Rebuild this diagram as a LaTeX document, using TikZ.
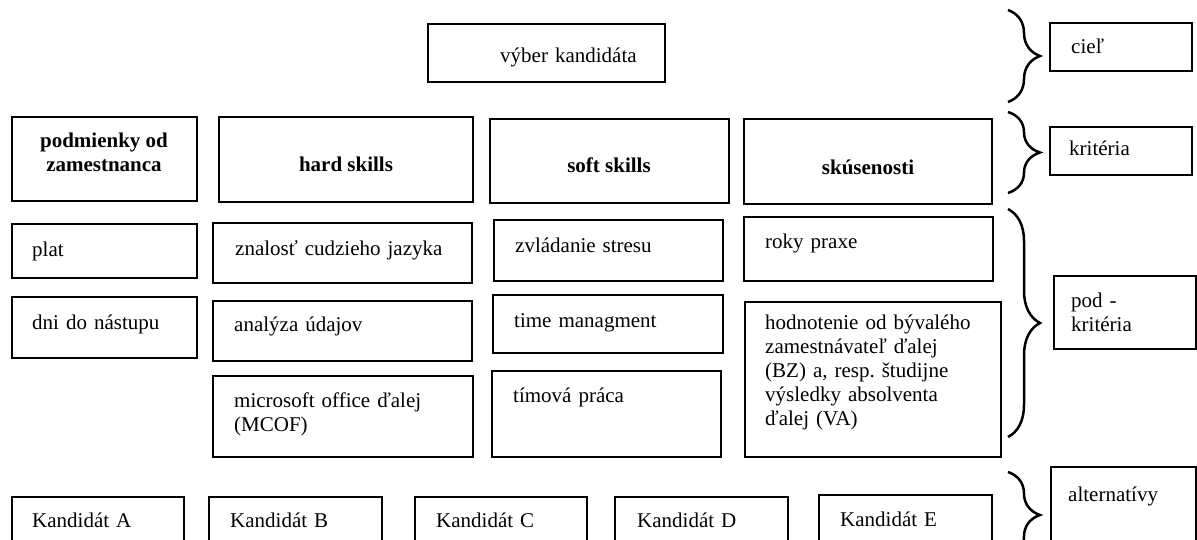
\documentclass[tikz,border=0pt]{standalone}
\usepackage{fontspec}
\setmainfont{Liberation Serif}
\frenchspacing
\usetikzlibrary{fit,decorations.pathreplacing}
\tikzset{
  boxs/.style={draw=black, line width=1.5pt, inner sep=0pt, fill=none},
  txt/.style={inner sep=0pt, anchor=base west, text width=300pt, align=left,
    font=\fontsize{21}{24}\selectfont},
  head/.style={inner sep=0pt, anchor=base, align=center,
    font=\fontsize{21}{24}\selectfont\bfseries},
  brc/.style={decorate, decoration={brace, amplitude=32pt}, line width=2.5pt}
}
\newcommand\mybox[5]{\node[boxs, fit={(#2,#3) (#4,#5)}] (#1) {};}
\begin{document}
\begin{tikzpicture}[x=1pt,y=-1pt]
\useasboundingbox (0,0) rectangle (1197,540);
\clip (0,0) rectangle (1197,540);
% goal
\mybox{top}{428}{24}{665}{82}
\node[txt] (top-t) at (500,63) {výber kandidáta};
% criteria
\mybox{c1}{12}{117}{197}{201}
\mybox{c2}{219}{117}{473}{202}
\mybox{c3}{490}{119}{729}{203}
\mybox{c4}{744}{119}{992}{204}
\node[head] (c1-t) at (104,172) {podmienky od\\zamestnanca};
\node[head] (c2-t) at (346,172) {hard skills};
\node[head] (c3-t) at (609,173) {soft skills};
\node[head] (c4-t) at (868,175) {skúsenosti};
% sub-criteria
\mybox{plat}{12}{224}{197}{278}
\node[txt] (plat-t) at (32,257) {plat};
\mybox{znal}{213}{223}{472}{283}
\node[txt] (znal-t) at (235,256) {znalosť cudzieho jazyka};
\mybox{zvl}{494}{220}{723}{281}
\node[txt] (zvl-t) at (515,252) {zvládanie stresu};
\mybox{roky}{744}{217}{993}{281}
\node[txt] (roky-t) at (765,249) {roky praxe};
\mybox{dni}{12}{297}{197}{358}
\node[txt] (dni-t) at (32,329) {dni do nástupu};
\mybox{anal}{213}{301}{472}{361}
\node[txt] (anal-t) at (234,331) {analýza údajov};
\mybox{time}{493}{295}{723}{353}
\node[txt] (time-t) at (514,327) {time managment};
\mybox{hodn}{745}{302}{1001}{457}
\node[txt] (hodn-t) at (765,329) {hodnotenie od bývalého\\zamestnávateľ ďalej\\(BZ) a, resp. študijne\\výsledky absolventa\\ďalej (VA)};
\mybox{micro}{213}{376}{473}{457}
\node[txt] (micro-t) at (234,407) {microsoft office ďalej\\(MCOF)};
\mybox{tim}{492}{371}{721}{457}
\node[txt] (tim-t) at (513,402) {tímová práca};
% alternatives
\mybox{ka}{12}{497}{184}{541}
\node[txt] (ka-t) at (32,527) {Kandidát A};
\mybox{kb}{209}{497}{382}{541}
\node[txt] (kb-t) at (230,527) {Kandidát B};
\mybox{kc}{415}{497}{587}{541}
\node[txt] (kc-t) at (436,527) {Kandidát C};
\mybox{kd}{615}{497}{788}{541}
\node[txt] (kd-t) at (637,527) {Kandidát D};
\mybox{ke}{819}{495}{992}{541}
\node[txt] (ke-t) at (840,526) {Kandidát E};
% level labels
\mybox{ciel}{1050}{23}{1192}{71}
\node[txt] (ciel-t) at (1071,54) {cieľ};
\mybox{krit}{1050}{127}{1192}{175}
\node[txt] (krit-t) at (1069,156) {kritéria};
\mybox{pod}{1054}{276}{1196}{349}
\node[txt] (pod-t) at (1071,307) {pod -\\kritéria};
\mybox{alt}{1051}{467}{1196}{541}
\node[txt] (alt-t) at (1068,501) {alternatívy};
% braces
\coordinate (b1a) at (1008,10);  \coordinate (b1b) at (1008,102);
\coordinate (b2a) at (1008,112); \coordinate (b2b) at (1008,193);
\coordinate (b3a) at (1008,209); \coordinate (b3b) at (1008,437);
\coordinate (b4a) at (1008,472); \coordinate (b4b) at (1008,558);
\draw[brc] (b1a) -- (b1b);
\draw[brc] (b2a) -- (b2b);
\draw[brc] (b3a) -- (b3b);
\draw[brc] (b4a) -- (b4b);
\end{tikzpicture}
\end{document}
